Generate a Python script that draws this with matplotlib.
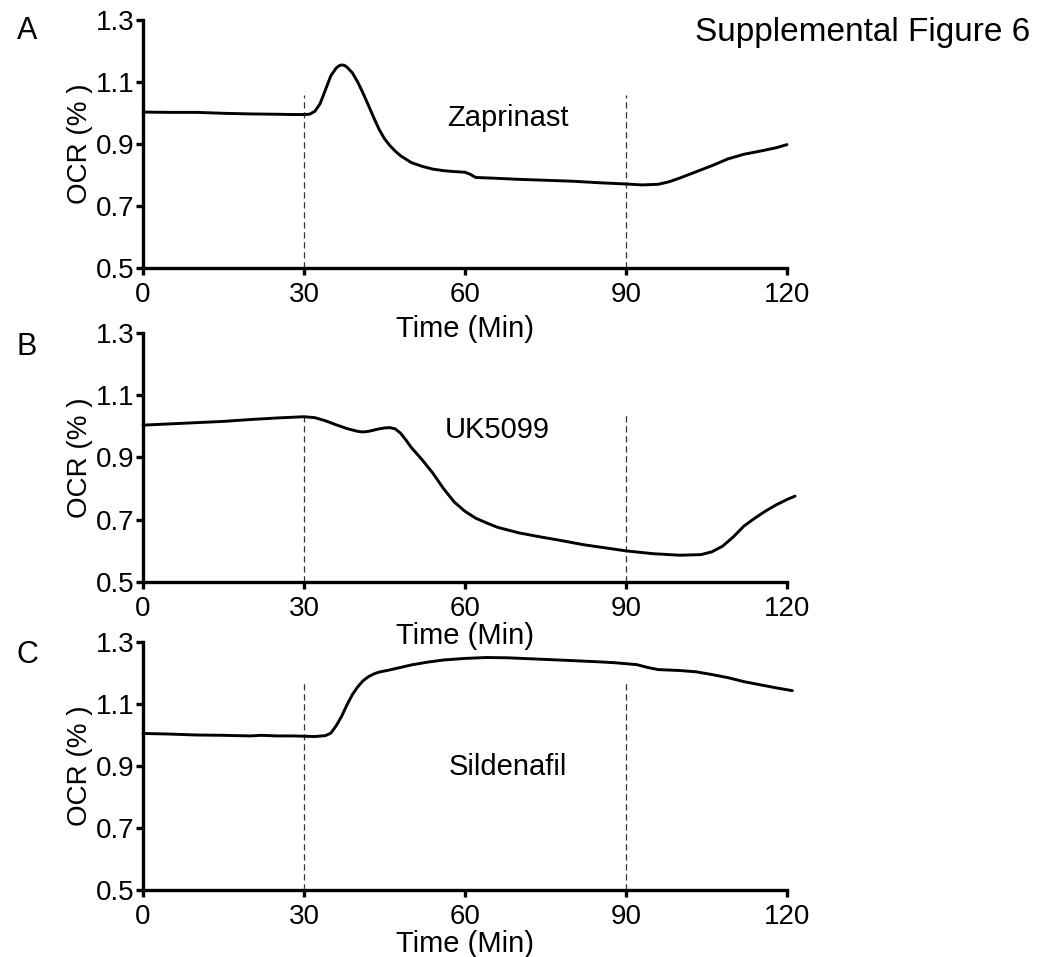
import matplotlib
matplotlib.use("Agg")
import matplotlib.pyplot as plt

plt.rcParams['font.family'] = ['Liberation Sans', 'DejaVu Sans']

# ---------------- data ----------------
time_a = [0, 5, 10, 15, 20, 25, 28, 30, 31, 32, 33, 34, 35, 36, 36.5, 37, 37.5, 38, 39, 40, 41,
          42, 43, 44, 45, 46, 47, 48, 50, 52, 54, 56, 58, 60, 61, 62, 65, 70, 75, 80, 85, 90,
          93, 96, 98, 100, 103, 106, 109, 112, 115, 118, 120]
ocr_a = [1.003, 1.002, 1.002, 0.999, 0.997, 0.996, 0.995, 0.995, 0.996, 1.005, 1.03, 1.075,
         1.12, 1.145, 1.152, 1.155, 1.154, 1.148, 1.13, 1.10, 1.064, 1.025, 0.985, 0.947,
         0.917, 0.895, 0.877, 0.862, 0.84, 0.828, 0.819, 0.814, 0.811, 0.809, 0.802, 0.792,
         0.79, 0.786, 0.783, 0.78, 0.775, 0.771, 0.768, 0.77, 0.778, 0.79, 0.81, 0.83, 0.852,
         0.867, 0.877, 0.888, 0.898]

time_b = [0, 5, 10, 15, 20, 25, 30, 32, 34, 36, 38, 40, 41, 42, 44, 45, 46, 47, 48, 49, 50,
          52, 54, 56, 58, 60, 62, 64, 66, 70, 74, 78, 82, 86, 90, 95, 100, 104, 106, 108, 110,
          112, 114, 116, 118, 120, 121.5]
ocr_b = [1.004, 1.008, 1.012, 1.016, 1.022, 1.027, 1.031, 1.028, 1.018, 1.005, 0.993, 0.984,
         0.982, 0.984, 0.992, 0.995, 0.996, 0.992, 0.978, 0.956, 0.932, 0.893, 0.85, 0.80,
         0.757, 0.727, 0.705, 0.69, 0.676, 0.658, 0.645, 0.633, 0.62, 0.61, 0.6, 0.591, 0.586,
         0.588, 0.597, 0.615, 0.645, 0.68, 0.705, 0.728, 0.748, 0.765, 0.776]

time_c = [0, 5, 10, 15, 20, 22, 25, 28, 30, 32, 34, 35, 36, 37, 38, 39, 40, 41, 42, 43, 44, 46,
          48, 50, 53, 56, 60, 64, 68, 72, 76, 80, 85, 88, 90, 92, 94, 96, 100, 103, 106, 109,
          112, 115, 118, 121]
ocr_c = [1.005, 1.003, 1.0, 0.999, 0.997, 0.999, 0.997, 0.997, 0.996, 0.995, 0.998, 1.006,
         1.03, 1.06, 1.097, 1.13, 1.155, 1.175, 1.188, 1.197, 1.203, 1.21, 1.218, 1.226, 1.235,
         1.242, 1.247, 1.25, 1.249, 1.246, 1.243, 1.24, 1.236, 1.233, 1.23, 1.227, 1.218, 1.211,
         1.208, 1.204, 1.195, 1.185, 1.172, 1.162, 1.152, 1.143]

panel_letters = ["A", "B", "C"]
drug_names = ["Zaprinast", "UK5099", "Sildenafil"]
drug_label_xy = [(68, 0.984), (66, 0.988), (68, 0.897)]
injection_times = [30, 90]
dash_tops = [1.058, 1.045, 1.177]
x_ticks = [0, 30, 60, 90, 120]
y_ticks = [0.5, 0.7, 0.9, 1.1, 1.3]
y_tick_labels = ["0.5", "0.7", "0.9", "1.1", "1.3"]

# ---------------- figure ----------------
fig = plt.figure(figsize=(10.42, 9.57), dpi=100)
W, H = 1042, 957
pix = [(20, 268), (333, 582), (642, 890)]
left_px, right_px = 143, 787
letter_y = [31, 347, 655]
xlabel_pad = [5, 0, 0]

series = [(time_a, ocr_a), (time_b, ocr_b), (time_c, ocr_c)]

for i, (top, bot) in enumerate(pix):
    ax = fig.add_axes([left_px / W, 1 - bot / H, (right_px - left_px) / W, (bot - top) / H])
    ax.set_facecolor('none')
    t, v = series[i]
    ax.plot(t, v, color='black', lw=2.1, clip_on=False, zorder=3,
            solid_joinstyle='round', solid_capstyle='round')
    ax.vlines(injection_times, 0.5, dash_tops[i], colors='#333333', linestyles=(0, (5, 3)),
              lw=0.9, zorder=2)
    ax.set_xlim(0, 120)
    ax.set_ylim(0.5, 1.3)
    ax.set_xticks(x_ticks)
    ax.set_yticks(y_ticks)
    ax.set_yticklabels(y_tick_labels)
    for s in ['top', 'right']:
        ax.spines[s].set_visible(False)
    for s in ['left', 'bottom']:
        ax.spines[s].set_linewidth(2.4)
    ax.tick_params(direction='out', length=5, width=2.4, labelsize=20)
    ax.tick_params(axis='x', pad=5)
    ax.tick_params(axis='y', pad=1)
    ax.set_ylabel("OCR (% )", fontsize=20, labelpad=2)
    ax.set_xlabel("Time (Min)", fontsize=21, labelpad=xlabel_pad[i])
    ax.text(drug_label_xy[i][0], drug_label_xy[i][1], drug_names[i], fontsize=21,
            ha='center', va='center')
    fig.text(27 / W, 1 - letter_y[i] / H, panel_letters[i], fontsize=22, ha='center',
             va='center')

fig.text(1030 / W, 1 - 32 / H, "Supplemental Figure 6", fontsize=24, ha='right', va='center')

fig.savefig("out.png", dpi=100)
